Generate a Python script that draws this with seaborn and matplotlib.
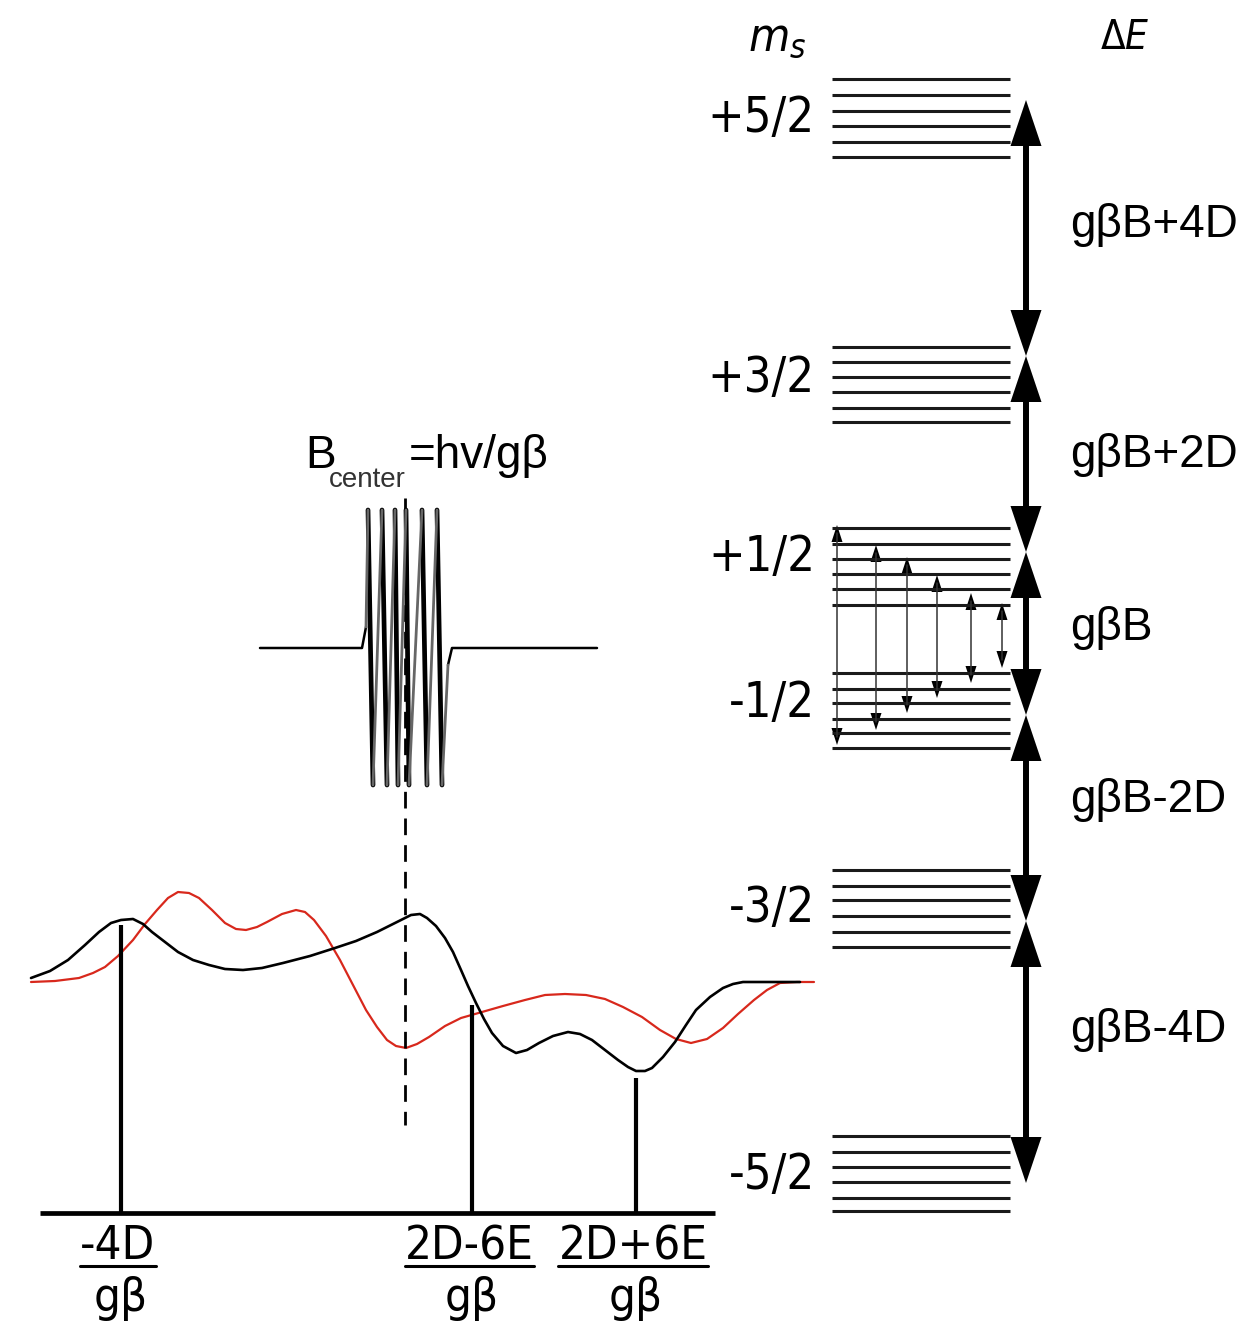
"""
EPR energy-level scheme for an S=5/2 ion with the matching spectrum and pulse.
Figure coordinates are pixel units, y axis running downward.
"""

import matplotlib
matplotlib.use("Agg")
import matplotlib.pyplot as plt
import pandas as pd
import seaborn as sns

# --- energy levels (right panel) ---
level_labels = ["+5/2", "+3/2", "+1/2", "-1/2", "-3/2", "-5/2"]
level_label_y = [118, 378, 557, 703, 908, 1175]
sublevel_y = [
    [79, 95, 111, 126, 142, 157],
    [347, 362, 377, 392, 408, 422],
    [528, 544, 559, 574, 589, 605],
    [673, 689, 703, 719, 733, 748],
    [870, 886, 900, 916, 932, 947],
    [1136, 1152, 1167, 1182, 1198, 1211],
]
gap_labels = ["gβB+4D", "gβB+2D", "gβB", "gβB-2D", "gβB-4D"]
gap_label_y = [225, 455, 628, 800, 1030]
gap_tips = [100, 356, 552, 715, 921, 1183]

# transitions inside the +1/2 <-> -1/2 manifold
trans_x = [837, 876, 907, 937, 971, 1002]
trans_top = [525, 545, 557, 575, 593, 603]
trans_bottom = [745, 730, 713, 698, 683, 668]

# --- spectrum (left panel) ---
black_x = [31, 50, 68, 85, 99, 111, 121, 133, 143, 152, 165, 178, 193, 209, 225, 243, 262,
           283, 310, 335, 356, 377, 395, 411, 420, 427, 436, 445, 453, 461, 468, 476, 484,
           492, 503, 516, 527, 539, 553, 568, 580, 592, 605, 618, 628, 636, 645, 652, 663,
           675, 686, 696, 710, 723, 733, 743, 760, 780, 800]
black_y = [978, 971, 960, 945, 932, 923, 920, 919, 924, 932, 942, 952, 960, 965, 969, 970, 968,
           963, 956, 948, 941, 932, 923, 915, 914, 918, 926, 938, 952, 970, 986, 1003, 1019,
           1033, 1046, 1053, 1050, 1043, 1036, 1032, 1034, 1040, 1050, 1060, 1067, 1071, 1071, 1068, 1057,
           1042, 1025, 1010, 997, 988, 984, 982, 982, 982, 982]
red_x = [31, 55, 79, 93, 105, 118, 133, 145, 157, 168, 178, 189, 199, 212, 225, 236, 246,
         257, 267, 282, 296, 305, 314, 326, 340, 353, 366, 377, 387, 396, 406, 417, 429,
         445, 461, 482, 503, 525, 545, 565, 586, 605, 623, 642, 660, 676, 691, 707, 723,
         738, 754, 767, 780, 797, 814]
red_y = [982, 981, 978, 973, 967, 956, 940, 924, 910, 898, 892, 893, 898, 910, 923, 929, 930,
         927, 922, 914, 910, 912, 920, 936, 960, 985, 1010, 1027, 1040, 1046, 1048, 1044, 1037,
         1026, 1018, 1012, 1006, 1000, 995, 994, 995, 999, 1007, 1017, 1030, 1039, 1043, 1039, 1028,
         1014, 1000, 990, 983, 982, 982]
stick_x = [121, 472, 636]
stick_top = [925, 1005, 1078]
stick_num = ["-4D", "2D-6E", "2D+6E"]
stick_den = ["gβ", "gβ", "gβ"]

# microwave pulse at B_center
pulse_peak_x = [368, 382, 395, 406, 422, 437]
pulse_trough_x = [373, 387, 398, 409, 427, 442]

WIDE = ["Liberation Sans", "DejaVu Sans"]


def head(ax, x, tip, direction, length, width, color="black"):
    # direction=+1 points up (towards smaller y), -1 points down
    base = tip + direction * length
    ax.fill([x - width / 2, x + width / 2, x], [base, base, tip], color=color, lw=0)


def main():
    sns.set_style("white")
    plt.rcParams["font.family"] = ["DejaVu Sans"]
    plt.rcParams["font.stretch"] = "condensed"
    plt.rcParams["text.color"] = "black"

    fig = plt.figure(figsize=(12.45, 13.24), dpi=100)
    ax = fig.add_axes([0, 0, 1, 1])

    # spectrum curves
    black = pd.DataFrame({"B": black_x, "signal": black_y})
    red = pd.DataFrame({"B": red_x, "signal": red_y})
    sns.lineplot(data=red, x="B", y="signal", sort=False, estimator=None,
                 color="#d8281c", lw=1.6, ax=ax)
    sns.lineplot(data=black, x="B", y="signal", sort=False, estimator=None,
                 color="black", lw=1.9, ax=ax)

    ax.set_xlim(0, 1245)
    ax.set_ylim(1324, 0)
    ax.axis("off")

    # stick spectrum and field axis
    ax.vlines(stick_x, stick_top, 1213, color="black", lw=3)
    ax.hlines(1213, 40, 715, color="black", lw=3.4)

    # B_center dashed marker
    ax.plot([405, 405], [498, 1125], color="black", lw=2, linestyle=(0, (6, 3.6)))

    # pulse
    ax.plot([260, 362, 366], [648, 648, 627], color="black", lw=1.8)
    ax.plot([448, 452, 597], [665, 648, 648], color="black", lw=1.8)
    for i, (p, t) in enumerate(zip(pulse_peak_x, pulse_trough_x)):
        ax.plot([p, t], [510, 785], color="black", lw=3.4)
        prev = 366 if i == 0 else pulse_trough_x[i - 1]
        prev_y = 627 if i == 0 else 785
        ax.plot([prev, p], [prev_y, 510], color="#666666", lw=2)
    ax.plot([pulse_trough_x[-1], 448], [785, 665], color="#666666", lw=2)

    ax.text(305, 468, "B", fontsize=33, family=WIDE, stretch="normal",
            va="baseline", ha="left")
    ax.text(329, 487, "center", fontsize=20, family=WIDE, stretch="normal",
            va="baseline", ha="left", color="#333333")
    ax.text(409, 468, "=hv/gβ", fontsize=33, family=WIDE, stretch="normal",
            va="baseline", ha="left")

    # fraction labels under the sticks
    nums = []
    for x, num, den in zip(stick_x, stick_num, stick_den):
        nums.append(ax.text(x - 3, 1259, num, fontsize=34, ha="center", va="baseline"))
        ax.text(x, 1311, den, fontsize=34, ha="center", va="baseline")
    fig.canvas.draw()
    inv = ax.transData.inverted()
    for t in nums:
        bb = t.get_window_extent()
        (x0, _), (x1, _) = inv.transform([(bb.x0, bb.y0), (bb.x1, bb.y1)])
        ax.plot([x0, x1], [1266, 1266], color="black", lw=2.2)

    # energy levels
    for ys, lab, ly in zip(sublevel_y, level_labels, level_label_y):
        ax.hlines(ys, 832, 1010, color="#1a1a1a", lw=2.2)
        ax.text(815, ly, lab, fontsize=35, ha="right", va="center")

    # transitions
    for x, top, bot in zip(trans_x, trans_top, trans_bottom):
        ax.plot([x, x], [top + 8, bot - 8], color="#333333", lw=1.1)
        head(ax, x, top, 1, 17, 11)
        head(ax, x, bot, -1, 17, 11)

    # big gap arrows
    for i, lab in enumerate(gap_labels):
        top, bot = gap_tips[i], gap_tips[i + 1]
        ax.plot([1026, 1026], [top + 30, bot - 30], color="black", lw=4.3,
                solid_capstyle="butt")
        head(ax, 1026, top, 1, 46, 31)
        head(ax, 1026, bot, -1, 46, 31)
        ax.text(1070, gap_label_y[i], lab, fontsize=33, family=WIDE, stretch="normal",
                ha="left", va="center")

    ax.text(777, 50, r"$m_s$", fontsize=34, ha="center", va="baseline")
    ax.text(1125, 38, r"$\Delta E$", fontsize=29, ha="center", va="center")

    fig.savefig("out.png", dpi=100)
    plt.close(fig)


if __name__ == "__main__":
    main()
